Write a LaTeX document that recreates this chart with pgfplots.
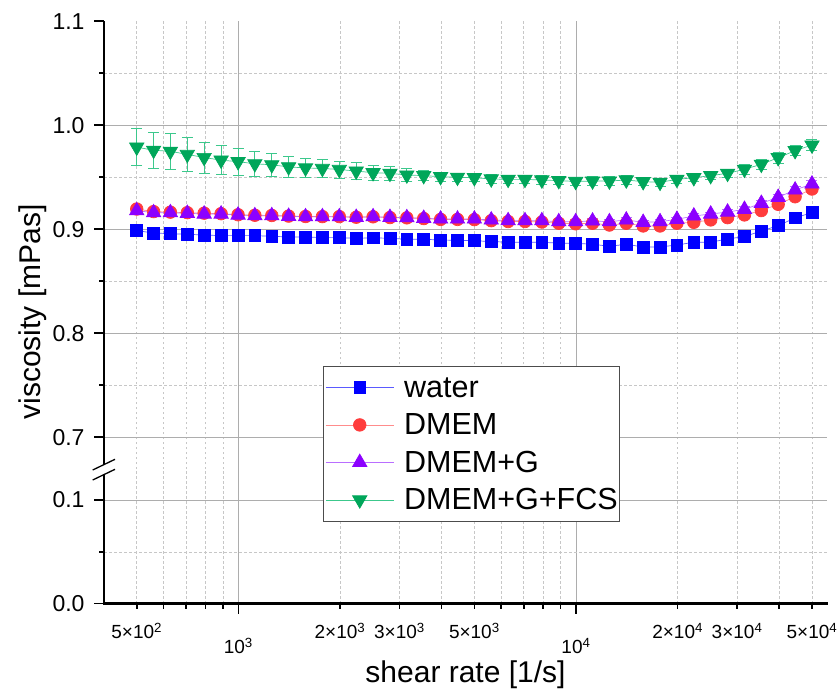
\documentclass[border=0pt]{standalone}
\usepackage{fontspec}
\setmainfont{Liberation Sans}
\usepackage{pgfplots}
\pgfplotsset{compat=1.18}
\usepackage{pgfplotstable}

\definecolor{cblue}{RGB}{0,0,255}
\definecolor{cblueL}{RGB}{90,90,255}
\definecolor{cred}{RGB}{255,60,60}
\definecolor{credL}{RGB}{255,140,140}
\definecolor{cpur}{RGB}{140,0,255}
\definecolor{cpurL}{RGB}{185,110,255}
\definecolor{cgrn}{RGB}{0,166,90}
\definecolor{cgrnL}{RGB}{60,200,140}

\pgfplotstableread{
x y e
500 0.8987 0.001
561 0.8964 0.001
629 0.8958 0.001
706 0.8952 0.001
792 0.8945 0.001
889 0.8939 0.001
998 0.8939 0.001
1119 0.8939 0.001
1256 0.8933 0.001
1409 0.8926 0.001
1581 0.8926 0.001
1774 0.8920 0.001
1991 0.8920 0.001
2234 0.8913 0.001
2506 0.8918 0.001
2812 0.8913 0.001
3155 0.8904 0.001
3540 0.8904 0.001
3972 0.8897 0.001
4457 0.8894 0.001
5000 0.8890 0.001
5610 0.8882 0.001
6295 0.8876 0.001
7063 0.8876 0.001
7924 0.8875 0.001
8891 0.8867 0.001
9976 0.8865 0.001
11194 0.8856 0.001
12559 0.8837 0.001
14092 0.8856 0.001
15811 0.8830 0.001
17741 0.8830 0.001
19905 0.8849 0.001
22334 0.8875 0.001
25059 0.8876 0.001
28117 0.8907 0.001
31548 0.8930 0.001
35397 0.8984 0.001
39716 0.9035 0.001
44562 0.9110 0.001
50000 0.9160 0.001
}\water

\pgfplotstableread{
x y e
500 0.9195 0.002
561 0.9170 0.002
629 0.9165 0.002
706 0.9160 0.002
792 0.9155 0.002
889 0.9150 0.002
998 0.9140 0.002
1119 0.9135 0.002
1256 0.9133 0.002
1409 0.9127 0.002
1581 0.9123 0.002
1774 0.9122 0.002
1991 0.9122 0.002
2234 0.9116 0.002
2506 0.9120 0.002
2812 0.9113 0.002
3155 0.9110 0.002
3540 0.9103 0.002
3972 0.9095 0.002
4457 0.9095 0.002
5000 0.9093 0.002
5610 0.9083 0.002
6295 0.9075 0.002
7063 0.9075 0.002
7924 0.9070 0.002
8891 0.9058 0.002
9976 0.9053 0.002
11194 0.9058 0.002
12559 0.9041 0.002
14092 0.9058 0.002
15811 0.9032 0.002
17741 0.9032 0.002
19905 0.9058 0.002
22334 0.9067 0.002
25059 0.9090 0.002
28117 0.9112 0.003
31548 0.9138 0.003
35397 0.9180 0.003
39716 0.9240 0.003
44562 0.9313 0.003
50000 0.9387 0.003
}\dmem

\pgfplotstableread{
x y e
500 0.9179 0.002
561 0.9160 0.002
629 0.9160 0.002
706 0.9154 0.002
792 0.9147 0.002
889 0.9147 0.002
998 0.9137 0.002
1119 0.9131 0.002
1256 0.9131 0.002
1409 0.9125 0.002
1581 0.9121 0.002
1774 0.9121 0.002
1991 0.9121 0.002
2234 0.9115 0.002
2506 0.9121 0.002
2812 0.9115 0.002
3155 0.9112 0.002
3540 0.9106 0.002
3972 0.9099 0.002
4457 0.9099 0.002
5000 0.9099 0.002
5610 0.9090 0.002
6295 0.9083 0.002
7063 0.9083 0.002
7924 0.9083 0.002
8891 0.9073 0.002
9976 0.9073 0.002
11194 0.9080 0.002
12559 0.9073 0.002
14092 0.9090 0.002
15811 0.9067 0.002
17741 0.9073 0.002
19905 0.9096 0.002
22334 0.9128 0.002
25059 0.9147 0.002
28117 0.9166 0.003
31548 0.9192 0.003
35397 0.9250 0.003
39716 0.9308 0.003
44562 0.9378 0.003
50000 0.9436 0.003
}\dmemg

\pgfplotstableread{
x y e
500 0.9790 0.0180
561 0.9760 0.0170
629 0.9750 0.0170
706 0.9720 0.0160
792 0.9690 0.0150
889 0.9665 0.0140
998 0.9650 0.0130
1119 0.9630 0.0120
1256 0.9620 0.0110
1409 0.9600 0.0100
1581 0.9590 0.0090
1774 0.9585 0.0087
1991 0.9575 0.0082
2234 0.9560 0.0080
2506 0.9544 0.0075
2812 0.9538 0.0070
3155 0.9522 0.0060
3540 0.9516 0.0050
3972 0.9506 0.0045
4457 0.9500 0.0040
5000 0.9496 0.0040
5610 0.9484 0.0040
6295 0.9480 0.0040
7063 0.9480 0.0040
7924 0.9474 0.0040
8891 0.9468 0.0040
9976 0.9460 0.0040
11194 0.9464 0.0040
12559 0.9464 0.0040
14092 0.9474 0.0040
15811 0.9458 0.0040
17741 0.9452 0.0040
19905 0.9480 0.0040
22334 0.9496 0.0040
25059 0.9516 0.0040
28117 0.9538 0.0040
31548 0.9577 0.0045
35397 0.9625 0.0045
39716 0.9688 0.0050
44562 0.9756 0.0050
50000 0.9810 0.0050
}\fcs

\begin{document}
\begin{tikzpicture}
\begin{axis}[
  name=up,
  scale only axis, width=723pt,
  xmode=log, xmin=400, xmax=55400,
  axis lines*=left,
  axis line style={-, line width=2.2pt, black},
  tick align=outside, major tick length=10pt, minor tick length=5pt,
  xmajorgrids, xminorgrids, ymajorgrids, yminorgrids,
  major grid style={black!32, line width=0.6pt},
  minor grid style={black!22, line width=0.5pt, dash pattern=on 2.5pt off 2.5pt},
  xtick={1000,10000},
  minor xtick={500,600,700,800,900,2000,3000,4000,5000,6000,7000,8000,9000,20000,30000,40000,50000},
  ytick style={black, line width=1.7pt},
  yticklabel style={font=\fontsize{23}{27}\selectfont, xshift=-6pt},
  at={(0pt,134.5pt)}, anchor=south west,
  height=447.7pt,
  ymin=0.6695, ymax=1.1,
  ytick={0.7,0.8,0.9,1.0}, yticklabels={0.7,0.8,0.9,1.0},
  extra y ticks={1.1}, extra y tick labels={1.1},
  extra y tick style={grid=none},
  minor ytick={0.75,0.85,0.95,1.05},
  x axis line style={draw=none},
  xtick style={draw=none},
  xticklabels={},
  ylabel={viscosity [mPas]},
  ylabel style={font=\fontsize{30}{36}\selectfont, at={(axis description cs:-0.0885,0.3507)}, anchor=base},
]
\addplot[color=cblueL, line width=0.7pt, mark=square*, mark size=5.9pt,
  mark options={draw=cblue, fill=cblue, solid},
  error bars/.cd, y dir=both, y explicit,
  error bar style={cblueL, line width=0.8pt},
  error mark options={rotate=90, mark size=5.5pt, cblueL, line width=0.8pt}]
  table[x=x,y=y,y error=e]{\water};
\addplot[color=credL, line width=0.7pt, mark=*, mark size=6.3pt,
  mark options={draw=cred, fill=cred, solid},
  error bars/.cd, y dir=both, y explicit,
  error bar style={credL, line width=0.8pt},
  error mark options={rotate=90, mark size=5.5pt, credL, line width=0.8pt}]
  table[x=x,y=y,y error=e]{\dmem};
\addplot[color=cpurL, line width=0.7pt, mark=triangle*, mark size=8.3pt,
  mark options={draw=cpur, fill=cpur, solid},
  error bars/.cd, y dir=both, y explicit,
  error bar style={cpurL, line width=0.8pt},
  error mark options={rotate=90, mark size=5.5pt, cpurL, line width=0.8pt}]
  table[x=x,y=y,y error=e]{\dmemg};
\addplot[color=cgrnL, line width=0.7pt, mark=triangle*, mark size=8.3pt,
  mark options={draw=cgrn, fill=cgrn, solid, rotate=180},
  error bars/.cd, y dir=both, y explicit,
  error bar style={cgrnL, line width=0.8pt},
  error mark options={rotate=90, mark size=5.5pt, cgrnL, line width=0.8pt}]
  table[x=x,y=y,y error=e]{\fcs};
\end{axis}

\begin{axis}[
  name=low,
  scale only axis, width=723pt,
  xmode=log, xmin=400, xmax=55400,
  axis lines*=left,
  axis line style={-, line width=2.2pt, black},
  tick align=outside, major tick length=10pt, minor tick length=5pt,
  xmajorgrids, xminorgrids, ymajorgrids, yminorgrids,
  major grid style={black!32, line width=0.6pt},
  minor grid style={black!22, line width=0.5pt, dash pattern=on 2.5pt off 2.5pt},
  xtick={1000,10000},
  minor xtick={500,600,700,800,900,2000,3000,4000,5000,6000,7000,8000,9000,20000,30000,40000,50000},
  ytick style={black, line width=1.7pt},
  yticklabel style={font=\fontsize{23}{27}\selectfont, xshift=-6pt},
  at={(0pt,0pt)}, anchor=south west,
  height=134.5pt,
  ymin=0, ymax=0.13,
  ytick={0,0.1}, yticklabels={0.0,0.1},
  minor ytick={0.05},
  xtick style={black, line width=1.7pt},
  xticklabels={10\textsuperscript{3},10\textsuperscript{4}},
  xticklabel style={font=\fontsize{19}{22}\selectfont, anchor=base, yshift=-40pt},
  extra x ticks={500,2000,3000,5000,20000,30000,50000},
  extra x tick labels={5×10\textsuperscript{2},2×10\textsuperscript{3},3×10\textsuperscript{3},5×10\textsuperscript{3},2×10\textsuperscript{4},3×10\textsuperscript{4},5×10\textsuperscript{4}},
  extra x tick style={grid=none, major tick length=5pt, xticklabel style={yshift=10pt}},
  xlabel={shear rate [1/s]},
  xlabel style={font=\fontsize{30}{36}\selectfont, at={(axis description cs:0.5,-0.5836)}, anchor=base},
  legend cell align=left,
  legend image code/.code={\draw[mark repeat=2,mark phase=2,#1] plot coordinates {(0pt,0pt) (34pt,0pt) (68pt,0pt)};},
  legend style={at={(axis description cs:0.3029,1.7658)}, anchor=north west,
    draw=black!70, line width=0.8pt, fill=white,
    font=\fontsize{30.5}{36}\selectfont,
    inner xsep=2pt, inner ysep=7pt, row sep=9.5pt,
    nodes={inner sep=0pt, text height=24pt, text depth=4pt},
    /tikz/every odd column/.append style={column sep=10pt}},
]
\addlegendimage{color=cblueL, line width=0.7pt, mark=square*, mark size=5.9pt, mark options={draw=cblue, fill=cblue, solid}}
\addlegendentry{water}
\addlegendimage{color=credL, line width=0.7pt, mark=*, mark size=6.3pt, mark options={draw=cred, fill=cred, solid}}
\addlegendentry{DMEM}
\addlegendimage{color=cpurL, line width=0.7pt, mark=triangle*, mark size=8.3pt, mark options={draw=cpur, fill=cpur, solid}}
\addlegendentry{DMEM+G}
\addlegendimage{color=cgrnL, line width=0.7pt, mark=triangle*, mark size=8.3pt, mark options={draw=cgrn, fill=cgrn, solid, rotate=180}}
\addlegendentry{DMEM+G+FCS}
\end{axis}

% axis lines (drawn explicitly on top of grid)
\draw[black, line width=2.2pt, line cap=rect] (low.south west) -- (low.south east);
\draw[black, line width=2.2pt] (low.south west) -- (up.north west);

% axis break mark
\fill[white] (-2.8pt,127.7pt) -- (2.8pt,130.1pt) -- (2.8pt,140.1pt) -- (-2.8pt,137.7pt) -- cycle;
\draw[black, line width=1.3pt] (-11.3pt,123.5pt) -- (11pt,134.2pt);
\draw[black, line width=1.3pt] (-11.3pt,133.5pt) -- (11pt,144.2pt);

\pgfresetboundingbox
\path[use as bounding box] (-104pt,-85.5pt) rectangle (734pt,603.5pt);
\end{tikzpicture}
\end{document}
